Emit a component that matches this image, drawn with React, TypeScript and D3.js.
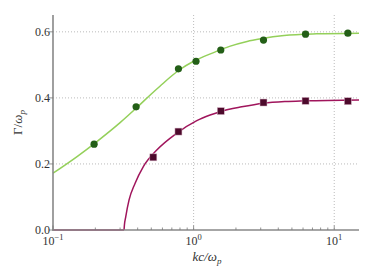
import * as d3 from 'd3';

// measured points (kc/ωp, Γ/ωp)
const kPoints = [0.196, 0.39, 0.78, 1.04, 1.56, 3.14, 6.25, 12.5];
const gammaA = [0.26, 0.373, 0.488, 0.511, 0.545, 0.575, 0.593, 0.596];
const kSquares = [0.517, 0.78, 1.56, 3.14, 6.25, 12.5];
const gammaB = [0.22, 0.298, 0.36, 0.386, 0.391, 0.39];

// theory curves
const curveAk = [0.1, 0.15, 0.2, 0.3, 0.4, 0.5, 0.6, 0.7, 0.8, 1.0, 1.4, 1.8, 2.4, 3.0, 4.4, 7.5, 15];
const curveAv = [0.172, 0.224, 0.264, 0.325, 0.373, 0.412, 0.442, 0.467, 0.486, 0.511, 0.538, 0.556, 0.571, 0.579, 0.589, 0.594, 0.596];
const curveBk = [0.32, 0.322, 0.329, 0.3475, 0.383, 0.439, 0.547, 0.759, 1.054, 1.31, 1.56, 2.2, 3.14, 4.5, 6.25, 15];
const curveBv = [0, 0.015, 0.04, 0.091, 0.141, 0.192, 0.242, 0.293, 0.331, 0.348, 0.359, 0.373, 0.384, 0.389, 0.391, 0.394];
const kCutoff = 0.32;

const yTicks = [0, 0.2, 0.4, 0.6];
const xMajor = [0.1, 1, 10];
const xExp = ['−1', '0', '1'];

const W = 374, H = 280;
const m = { left: 53, right: 15, top: 15, bottom: 50 };

export default function App() {
  const x = d3.scaleLog().domain([0.1, 15]).range([m.left, W - m.right]);
  const y = d3.scaleLinear().domain([0, 0.651]).range([H - m.bottom, m.top]);
  const minor = [0.1, 1].flatMap(b => d3.range(2, 10).map(i => i * b));

  const line = d3.line<[number, number]>().x(d => x(d[0])).y(d => y(d[1])).curve(d3.curveMonotoneX);
  const ptsA = curveAk.map((k, i) => [k, curveAv[i]] as [number, number]);
  const ptsB = curveBk.map((k, i) => [k, curveBv[i]] as [number, number]);

  const font = '"Liberation Serif", "DejaVu Serif", serif';
  const x0 = m.left, x1 = W - m.right, yb = H - m.bottom, yt = m.top;

  return (
    <svg width={W} height={H} style={{ position: 'absolute', left: 0, top: 0 }} fontFamily={font}>
      <rect width={W} height={H} fill="#fff" />
      {/* grid */}
      {yTicks.filter(t => t > 0).map(t => (
        <line key={'gy' + t} x1={x0} x2={x1} y1={y(t)} y2={y(t)} stroke="#aaa" strokeWidth={0.8} strokeDasharray="1,2" />
      ))}
      {[1, 10].map(t => (
        <line key={'gx' + t} x1={x(t)} x2={x(t)} y1={yt} y2={yb} stroke="#aaa" strokeWidth={0.8} strokeDasharray="1,2" />
      ))}
      {/* curves */}
      <path d={line(ptsA) ?? ''} fill="none" stroke="#94d05a" strokeWidth={1.5} />
      <line x1={x(0.1)} x2={x(kCutoff)} y1={y(0)} y2={y(0)} stroke="#a0155c" strokeWidth={1.5} />
      <path d={line(ptsB) ?? ''} fill="none" stroke="#a0155c" strokeWidth={1.5} />
      {/* axes */}
      <line x1={x0} x2={x0} y1={yt} y2={yb + 1} stroke="#888" strokeWidth={1.6} />
      <line x1={x0} x2={x1} y1={yb} y2={yb} stroke="#888" strokeWidth={1.4} />
      {yTicks.map(t => (
        <g key={'yt' + t}>
          <line x1={x0 - 4} x2={x0} y1={y(t)} y2={y(t)} stroke="#777" strokeWidth={0.8} />
          <text x={x0 - 3} y={y(t) + 4} textAnchor="end" fontSize={12} fill="#333">{t.toFixed(1)}</text>
        </g>
      ))}
      {minor.map(v => (
        <line key={'mn' + v} x1={x(v)} x2={x(v)} y1={yb} y2={yb - 2.5} stroke="#777" strokeWidth={0.8} />
      ))}
      {xMajor.map((t, i) => (
        <g key={'xt' + t}>
          <line x1={x(t)} x2={x(t)} y1={yb} y2={yb - 4.5} stroke="#777" strokeWidth={0.8} />
          <text x={x(t)} y={yb + 15} textAnchor="middle" fontSize={12} fill="#333">
            10<tspan fontSize={8.5} dy={-5}>{xExp[i]}</tspan>
          </text>
        </g>
      ))}
      {/* markers */}
      {kPoints.map((k, i) => (
        <circle key={'c' + i} cx={x(k)} cy={y(gammaA[i])} r={3.6} fill="#235f17" />
      ))}
      {kSquares.map((k, i) => (
        <rect key={'s' + i} x={x(k) - 3.5} y={y(gammaB[i]) - 3.5} width={7} height={7} fill="#4d0a2c" stroke="#d8b8c8" strokeWidth={0.5} />
      ))}
      {/* labels */}
      <text x={(x0 + x1) / 2 + 1} y={261} textAnchor="middle" fontSize={13} fill="#333" fontStyle="italic">
        kc/ω<tspan fontSize={9} dy={3}>p</tspan>
      </text>
      <text transform={`translate(22,${(yt + yb) / 2}) rotate(-90)`} textAnchor="middle" fontSize={13} fill="#333">
        Γ/<tspan fontStyle="italic">ω</tspan><tspan fontSize={9} dy={3} fontStyle="italic">p</tspan>
      </text>
    </svg>
  );
}
